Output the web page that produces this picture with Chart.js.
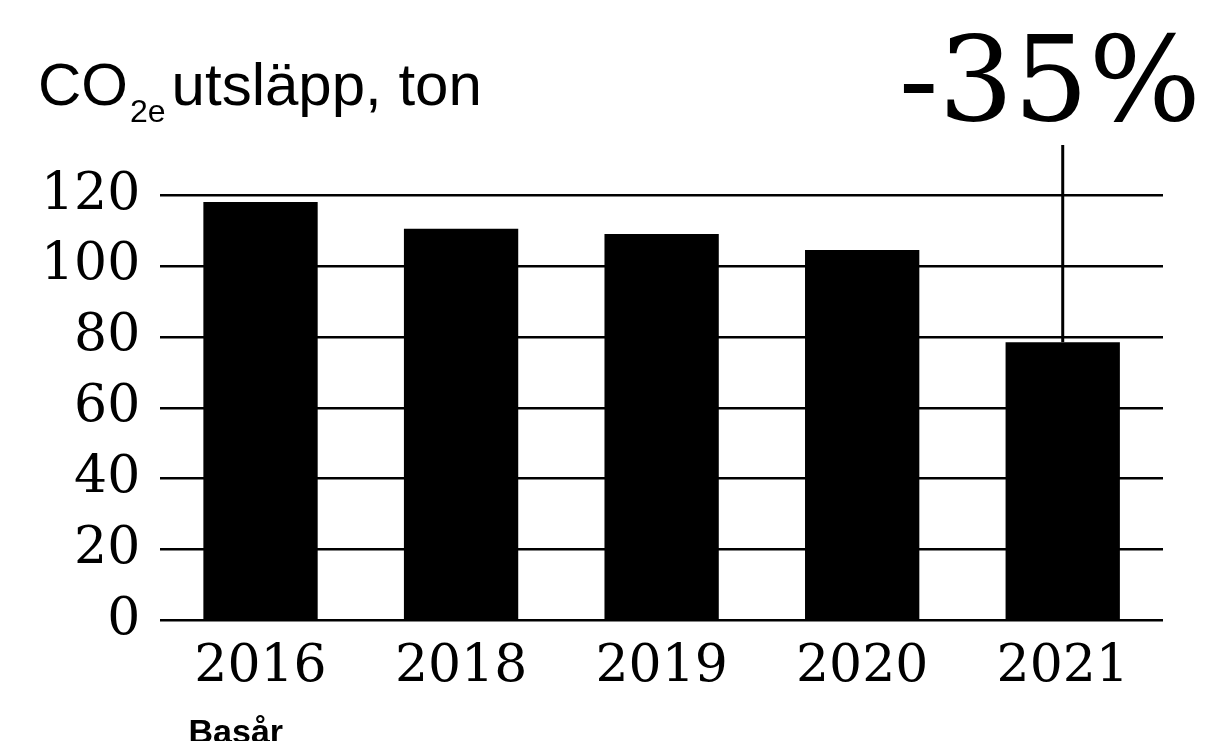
<!DOCTYPE html>
<html lang="sv">
<head>
  <meta charset="UTF-8">
  <title>CO2e utsläpp</title>
  <script src="https://cdn.jsdelivr.net/npm/chart.js"></script>
  <style>
    html, body { margin: 0; padding: 0; background: #fff; }
    #wrap { width: 1217px; height: 741px; }
  </style>
</head>
<body>
  <div id="wrap"><canvas id="co2Chart"></canvas></div>

  <script>
    const years = ['2016', '2018', '2019', '2020', '2021'];
    const utslapp = [118, 110.5, 109, 104.5, 78.5];
    const yMax = 120;
    const yStep = 20;
    const change = '-35%';
    const baseLabel = 'Basår';

    const SERIF = '"DejaVu Serif", serif';
    const SANS = '"Liberation Sans", Arial, sans-serif';

    // title with subscript, change marker and base-year note
    const extras = {
      id: 'extras',
      afterDatasetsDraw(chart) {
        const { ctx, scales: { x, y } } = chart;
        ctx.save();
        ctx.fillStyle = '#000';
        ctx.textBaseline = 'alphabetic';

        // CO2e utsläpp, ton
        ctx.font = '60px ' + SANS;
        ctx.textAlign = 'left';
        let tx = 38;
        ctx.fillText('CO', tx, 105);
        tx += ctx.measureText('CO').width + 2;
        ctx.font = '32px ' + SANS;
        ctx.fillText('2e', tx, 122);
        tx += ctx.measureText('2e').width + 6;
        ctx.font = '60px ' + SANS;
        ctx.fillText('utsläpp, ton', tx, 105);

        // vertical line from last bar up to the label
        const last = utslapp.length - 1;
        const lx = x.getPixelForValue(last);
        ctx.strokeStyle = '#000';
        ctx.lineWidth = 3;
        ctx.beginPath();
        ctx.moveTo(lx, y.getPixelForValue(utslapp[last]));
        ctx.lineTo(lx, 145);
        ctx.stroke();

        ctx.font = '118px ' + SERIF;
        ctx.textAlign = 'center';
        ctx.fillText(change, lx - 13, 120);

        // base year note under the first label
        ctx.font = 'bold 34px ' + SANS;
        ctx.textAlign = 'left';
        ctx.textBaseline = 'top';
        ctx.fillText(baseLabel, x.getPixelForValue(0) - 72, 717);
        ctx.restore();
      }
    };

    new Chart(document.getElementById('co2Chart'), {
      type: 'bar',
      data: {
        labels: years,
        datasets: [{
          data: utslapp,
          backgroundColor: '#000',
          borderWidth: 0,
          categoryPercentage: 1,
          barPercentage: 0.57
        }]
      },
      options: {
        responsive: true,
        maintainAspectRatio: false,
        animation: false,
        events: [],
        layout: { padding: { top: 195, right: 54, bottom: 34, left: 21 } },
        plugins: {
          legend: { display: false },
          tooltip: { enabled: false }
        },
        scales: {
          x: {
            grid: { display: false },
            border: { display: false },
            ticks: {
              color: '#000',
              padding: 8,
              font: { family: SERIF, size: 52 }
            }
          },
          y: {
            min: 0,
            max: yMax,
            border: { display: false },
            grid: { color: '#000', lineWidth: 2.5, drawTicks: false },
            ticks: {
              stepSize: yStep,
              color: '#000',
              padding: 20,
              font: { family: SERIF, size: 52 }
            }
          }
        }
      },
      plugins: [extras]
    });
  </script>
</body>
</html>
